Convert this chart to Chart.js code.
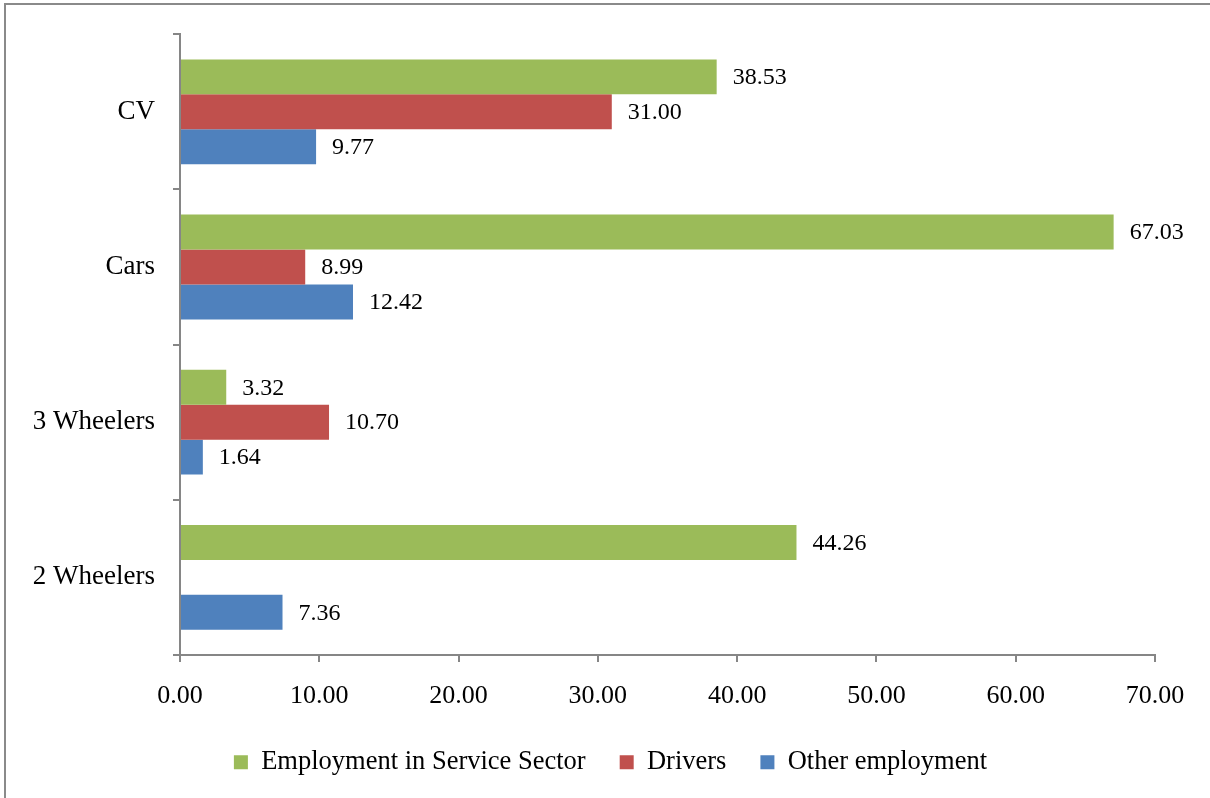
<!DOCTYPE html>
<html>
<head>
<meta charset="utf-8">
<script src="https://cdn.jsdelivr.net/npm/chart.js@4.4.0/dist/chart.umd.min.js"></script>
<style>
  html, body { margin: 0; padding: 0; background: #fff; overflow: hidden; }
  #wrap { position: relative; width: 1210px; height: 798px; }
  #frame { position: absolute; left: 4px; top: 3px; width: 1300px; height: 900px; border: 2px solid #8a8a8a; }
  #box { position: absolute; left: 0; top: 0; width: 1210px; height: 798px; }
</style>
</head>
<body>
<div id="wrap">
  <div id="frame"></div>
  <div id="box"><canvas id="myChart"></canvas></div>
</div>
<script>
const categories = ['CV', 'Cars', '3 Wheelers', '2 Wheelers'];
const serviceSector = [38.53, 67.03, 3.32, 44.26];
const drivers = [31.00, 8.99, 10.70, null];
const otherEmployment = [9.77, 12.42, 1.64, 7.36];
const xTicks = [0, 10, 20, 30, 40, 50, 60, 70];

const serif = "'Liberation Serif', 'Times New Roman', serif";
const axisGrey = '#868686';

// value labels to the right of each bar
const barLabels = {
  id: 'barLabels',
  afterDatasetsDraw(chart) {
    const ctx = chart.ctx;
    ctx.save();
    ctx.font = '24px ' + serif;
    ctx.fillStyle = '#000';
    ctx.textAlign = 'left';
    ctx.textBaseline = 'middle';
    chart.data.datasets.forEach(function (ds, i) {
      const meta = chart.getDatasetMeta(i);
      meta.data.forEach(function (bar, j) {
        const v = ds.data[j];
        if (v === null || v === undefined) return;
        ctx.fillText(v.toFixed(2), bar.x + 16, bar.y + 1);
      });
    });
    ctx.restore();
  }
};

// legend sits centred under the whole page, not just under the plot
const legendShift = {
  id: 'legendShift',
  afterLayout(chart) {
    if (chart.legend) {
      chart.legend.left += 33;
      chart.legend.right += 33;
    }
  }
};

const ctx = document.getElementById('myChart').getContext('2d');
var myChart = new Chart(ctx, {
  type: 'bar',
  data: {
    labels: categories,
    datasets: [
      { label: 'Employment in Service Sector', data: serviceSector, backgroundColor: '#9BBB59' },
      { label: 'Drivers', data: drivers, backgroundColor: '#C0504D' },
      { label: 'Other employment', data: otherEmployment, backgroundColor: '#4F81BD' }
    ]
  },
  options: {
    indexAxis: 'y',
    responsive: true,
    maintainAspectRatio: false,
    animation: false,
    datasets: {
      bar: { categoryPercentage: 0.675, barPercentage: 1.0, borderWidth: 0 }
    },
    layout: { padding: { top: 33, right: 55, left: 0, bottom: 12.5 } },
    plugins: {
      tooltip: { enabled: false },
      legend: {
        position: 'bottom',
        labels: {
          boxWidth: 14,
          boxHeight: 14,
          padding: 34,
          color: '#000',
          font: { family: serif, size: 26.5 }
        }
      }
    },
    scales: {
      x: {
        min: 0,
        max: 70,
        afterBuildTicks(scale) {
          scale.ticks = xTicks.map(v => ({ value: v }));
        },
        afterFit(scale) { scale.height = 60; },
        grid: { drawOnChartArea: false, color: axisGrey, tickLength: 7, lineWidth: 2 },
        border: { color: axisGrey, width: 2 },
        ticks: {
          color: '#000',
          padding: 19,
          maxRotation: 0,
          font: { family: serif, size: 26 },
          callback: v => Number(v).toFixed(2)
        }
      },
      y: {
        afterFit(scale) { scale.width = 180; },
        grid: { drawOnChartArea: false, color: axisGrey, tickLength: 7, lineWidth: 2, offset: true },
        border: { color: axisGrey, width: 2 },
        ticks: {
          color: '#000',
          padding: 18,
          font: { family: serif, size: 27 }
        }
      }
    }
  },
  plugins: [barLabels, legendShift]
});
</script>
</body>
</html>
